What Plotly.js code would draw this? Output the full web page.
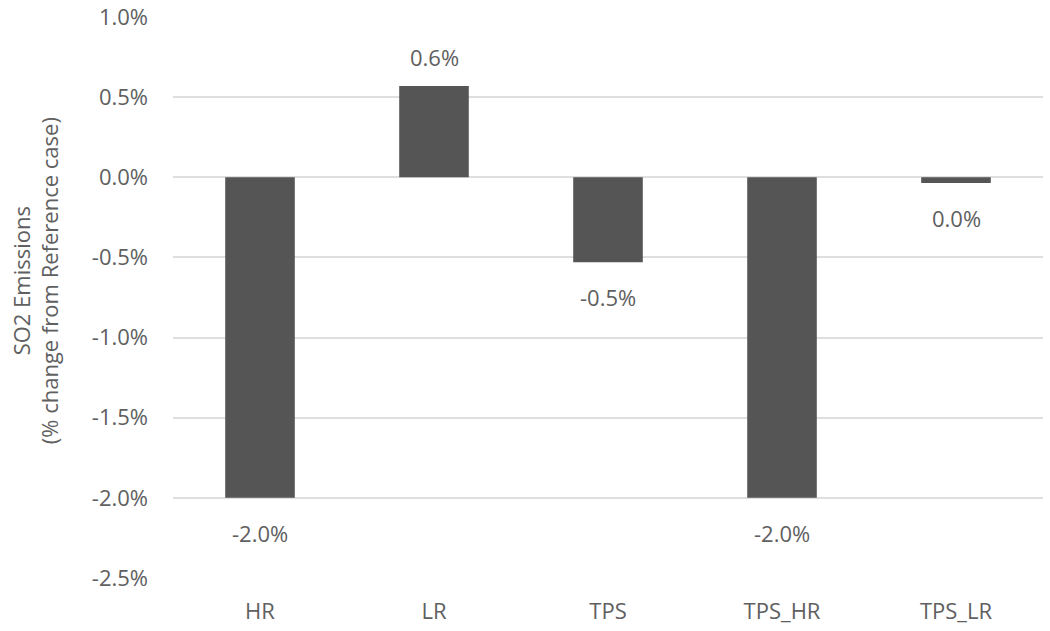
<!DOCTYPE html>
<html>
<head>
<meta charset="utf-8">
<script src="https://cdn.plot.ly/plotly-3.0.1.min.js"></script>
<style>
  html, body { margin: 0; padding: 0; background: #fff; }
  #plot { width: 1050px; height: 631px; }
</style>
</head>
<body>
<div id="plot"></div>
<script>
// SO2 emissions, % change from Reference case
var scenarios = ['HR', 'LR', 'TPS', 'TPS_HR', 'TPS_LR'];
var changePct = [-2.0, 0.57, -0.53, -2.0, -0.035];
var barLabels = ['-2.0%', '0.6%', '-0.5%', '-2.0%', '0.0%'];

var yTickVals = [-2.5, -2.0, -1.5, -1.0, -0.5, 0.0, 0.5, 1.0];
var yTickText = ['-2.5%', '-2.0%', '-1.5%', '-1.0%', '-0.5%', '0.0%', '0.5%', '1.0%'];

var textGray = '#606060';
var fontFam = '"Open Sans", "Noto Sans", sans-serif';
var fs = 22;

var trace = {
    x: scenarios,
    y: changePct,
    type: 'bar',
    marker: { color: '#555555' },
    hoverinfo: 'skip'
};

// value labels sit a little away from the bar end, like the source
var notes = scenarios.map(function (s, i) {
    return {
        x: s,
        y: changePct[i],
        xref: 'x',
        yref: 'y',
        text: barLabels[i],
        showarrow: false,
        yshift: changePct[i] >= 0 ? 29 : -35,
        font: { family: fontFam, size: fs, color: textGray }
    };
});

// axis title as two lines, placed by hand
notes.push({
    xref: 'paper',
    yref: 'paper',
    x: -0.158,
    y: 0.53,
    xanchor: 'center',
    yanchor: 'middle',
    textangle: -90,
    showarrow: false,
    text: 'SO2 Emissions<br>(% change from Reference case)',
    font: { family: fontFam, size: fs, color: textGray }
});

var layout = {
    width: 1050,
    height: 631,
    margin: { l: 173, r: 7, t: 17, b: 53 },
    paper_bgcolor: '#ffffff',
    plot_bgcolor: '#ffffff',
    showlegend: false,
    bargap: 0.6,
    font: { family: fontFam, size: fs, color: textGray },
    xaxis: {
        showgrid: false,
        showline: false,
        ticks: '',
        ticklabelstandoff: 18,
        tickfont: { family: fontFam, size: fs, color: textGray }
    },
    yaxis: {
        range: [-2.5, 1.0],
        tickvals: yTickVals,
        ticktext: yTickText,
        showgrid: true,
        gridcolor: '#dedede',
        gridwidth: 2,
        zeroline: false,
        showline: false,
        ticks: '',
        ticklabelstandoff: 24,
        tickfont: { family: fontFam, size: fs, color: textGray }
    },
    annotations: notes
};

Plotly.newPlot('plot', [trace], layout, { staticPlot: true });
</script>
</body>
</html>
